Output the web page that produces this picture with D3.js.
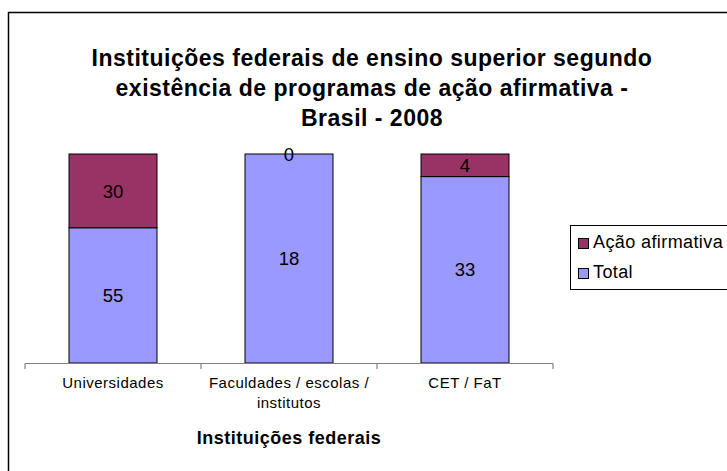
<!DOCTYPE html>
<html>
<head>
<meta charset="utf-8">
<script src="https://cdn.jsdelivr.net/npm/d3@7"></script>
<style>
  body { margin: 0; background: #fff; }
  svg { display: block; font-family: "Liberation Sans", Arial, sans-serif; }
</style>
</head>
<body>
<div id="chart"></div>
<script>
// data
const categories = ["Universidades", "Faculdades / escolas / institutos", "CET / FaT"];
const tickLabels = [["Universidades"], ["Faculdades / escolas /", "institutos"], ["CET / FaT"]];
const totalValues = [55, 18, 33];
const acaoValues = [30, 0, 4];
const seriesNames = ["Total", "Ação afirmativa"];
const legendOrder = ["Ação afirmativa", "Total"];
const titleLines = ["Instituições federais de ensino superior segundo",
                    "existência de programas de ação afirmativa -",
                    "Brasil - 2008"];
const axisTitle = "Instituições federais";

const width = 727, height = 471;

const svg = d3.select("#chart")
  .append("svg")
    .attr("width", width)
    .attr("height", height);

// chart frame (runs off right / bottom)
svg.append("rect")
  .attr("x", 8.5).attr("y", 12.5)
  .attr("width", 760).attr("height", 500)
  .attr("fill", "#fff")
  .attr("stroke", "#000")
  .attr("stroke-width", 1.5);

// title
svg.append("g")
  .selectAll("text")
  .data(titleLines)
  .join("text")
    .attr("x", 372)
    .attr("y", (d, i) => 66 + i * 30)
    .attr("text-anchor", "middle")
    .attr("font-weight", "bold")
    .attr("font-size", 23)
    .attr("letter-spacing", 0.5)
    .text(d => d);

// scales
const x = d3.scaleBand()
    .domain(categories)
    .range([25, 553])
    .paddingInner(0.5)
    .paddingOuter(0.25);

const y = d3.scaleLinear()
    .domain([0, 1])
    .range([363, 154]);

const color = d3.scaleOrdinal()
    .domain(seriesNames)
    .range(["#9999FF", "#993366"]);

// table for the stack
const table = categories.map((c, i) => ({
  cat: c,
  "Total": totalValues[i],
  "Ação afirmativa": acaoValues[i]
}));

const stacked = d3.stack()
    .keys(seriesNames)
    .offset(d3.stackOffsetExpand)(table);

// bars
const layers = svg.append("g")
  .selectAll("g")
  .data(stacked)
  .join("g")
    .attr("fill", d => color(d.key));

layers.selectAll("rect")
  .data(d => d)
  .join("rect")
    .attr("x", d => x(d.data.cat))
    .attr("y", d => y(d[1]))
    .attr("width", x.bandwidth())
    .attr("height", d => y(d[0]) - y(d[1]))
    .attr("stroke", "#000")
    .attr("stroke-width", 1);

// data labels
svg.append("g")
  .selectAll("g")
  .data(stacked)
  .join("g")
  .selectAll("text")
  .data(d => d.map(v => ({v: v, key: d.key})))
  .join("text")
    .attr("x", d => x(d.v.data.cat) + x.bandwidth() / 2)
    .attr("y", d => (y(d.v[0]) + y(d.v[1])) / 2)
    .attr("dy", "0.36em")
    .attr("text-anchor", "middle")
    .attr("font-size", 18.5)
    .attr("fill", "#000")
    .text(d => d.v.data[d.key]);

// x axis (Excel style ticks between categories)
const axisG = svg.append("g").attr("stroke", "#808080").attr("stroke-width", 1.2);
const [x0, x1] = x.range();
axisG.append("line")
  .attr("x1", x0).attr("x2", x1)
  .attr("y1", 363.5).attr("y2", 363.5);
axisG.selectAll(".tick")
  .data(d3.range(categories.length + 1))
  .join("line")
    .attr("class", "tick")
    .attr("x1", i => x0 + i * x.step())
    .attr("x2", i => x0 + i * x.step())
    .attr("y1", 363.5).attr("y2", 369);

const tickG = svg.append("g")
  .selectAll("text")
  .data(categories)
  .join("text")
    .attr("x", d => x(d) + x.bandwidth() / 2)
    .attr("y", 388)
    .attr("text-anchor", "middle")
    .attr("font-size", 15)
    .attr("letter-spacing", 0.5);

tickG.selectAll("tspan")
  .data((d, i) => tickLabels[i])
  .join("tspan")
    .attr("x", function() { return this.parentNode.getAttribute("x"); })
    .attr("dy", (d, i) => i === 0 ? 0 : 20)
    .text(d => d);

svg.append("text")
  .attr("x", (x0 + x1) / 2)
  .attr("y", 444)
  .attr("text-anchor", "middle")
  .attr("font-weight", "bold")
  .attr("font-size", 18)
  .attr("letter-spacing", 0.5)
  .text(axisTitle);

// legend
const legend = svg.append("g");
legend.append("rect")
  .attr("x", 570.5).attr("y", 225.5)
  .attr("width", 200).attr("height", 64)
  .attr("fill", "#fff")
  .attr("stroke", "#000")
  .attr("stroke-width", 1);

const items = legend.selectAll("g")
  .data(legendOrder)
  .join("g")
    .attr("transform", (d, i) => `translate(578, ${238 + i * 30})`);

items.append("rect")
  .attr("x", 0.5).attr("y", 0.5)
  .attr("width", 10).attr("height", 10)
  .attr("fill", d => color(d))
  .attr("stroke", "#000");

items.append("text")
  .attr("x", 15)
  .attr("y", 10)
  .attr("font-size", 18)
  .attr("letter-spacing", 0.4)
  .text(d => d);
</script>
</body>
</html>
